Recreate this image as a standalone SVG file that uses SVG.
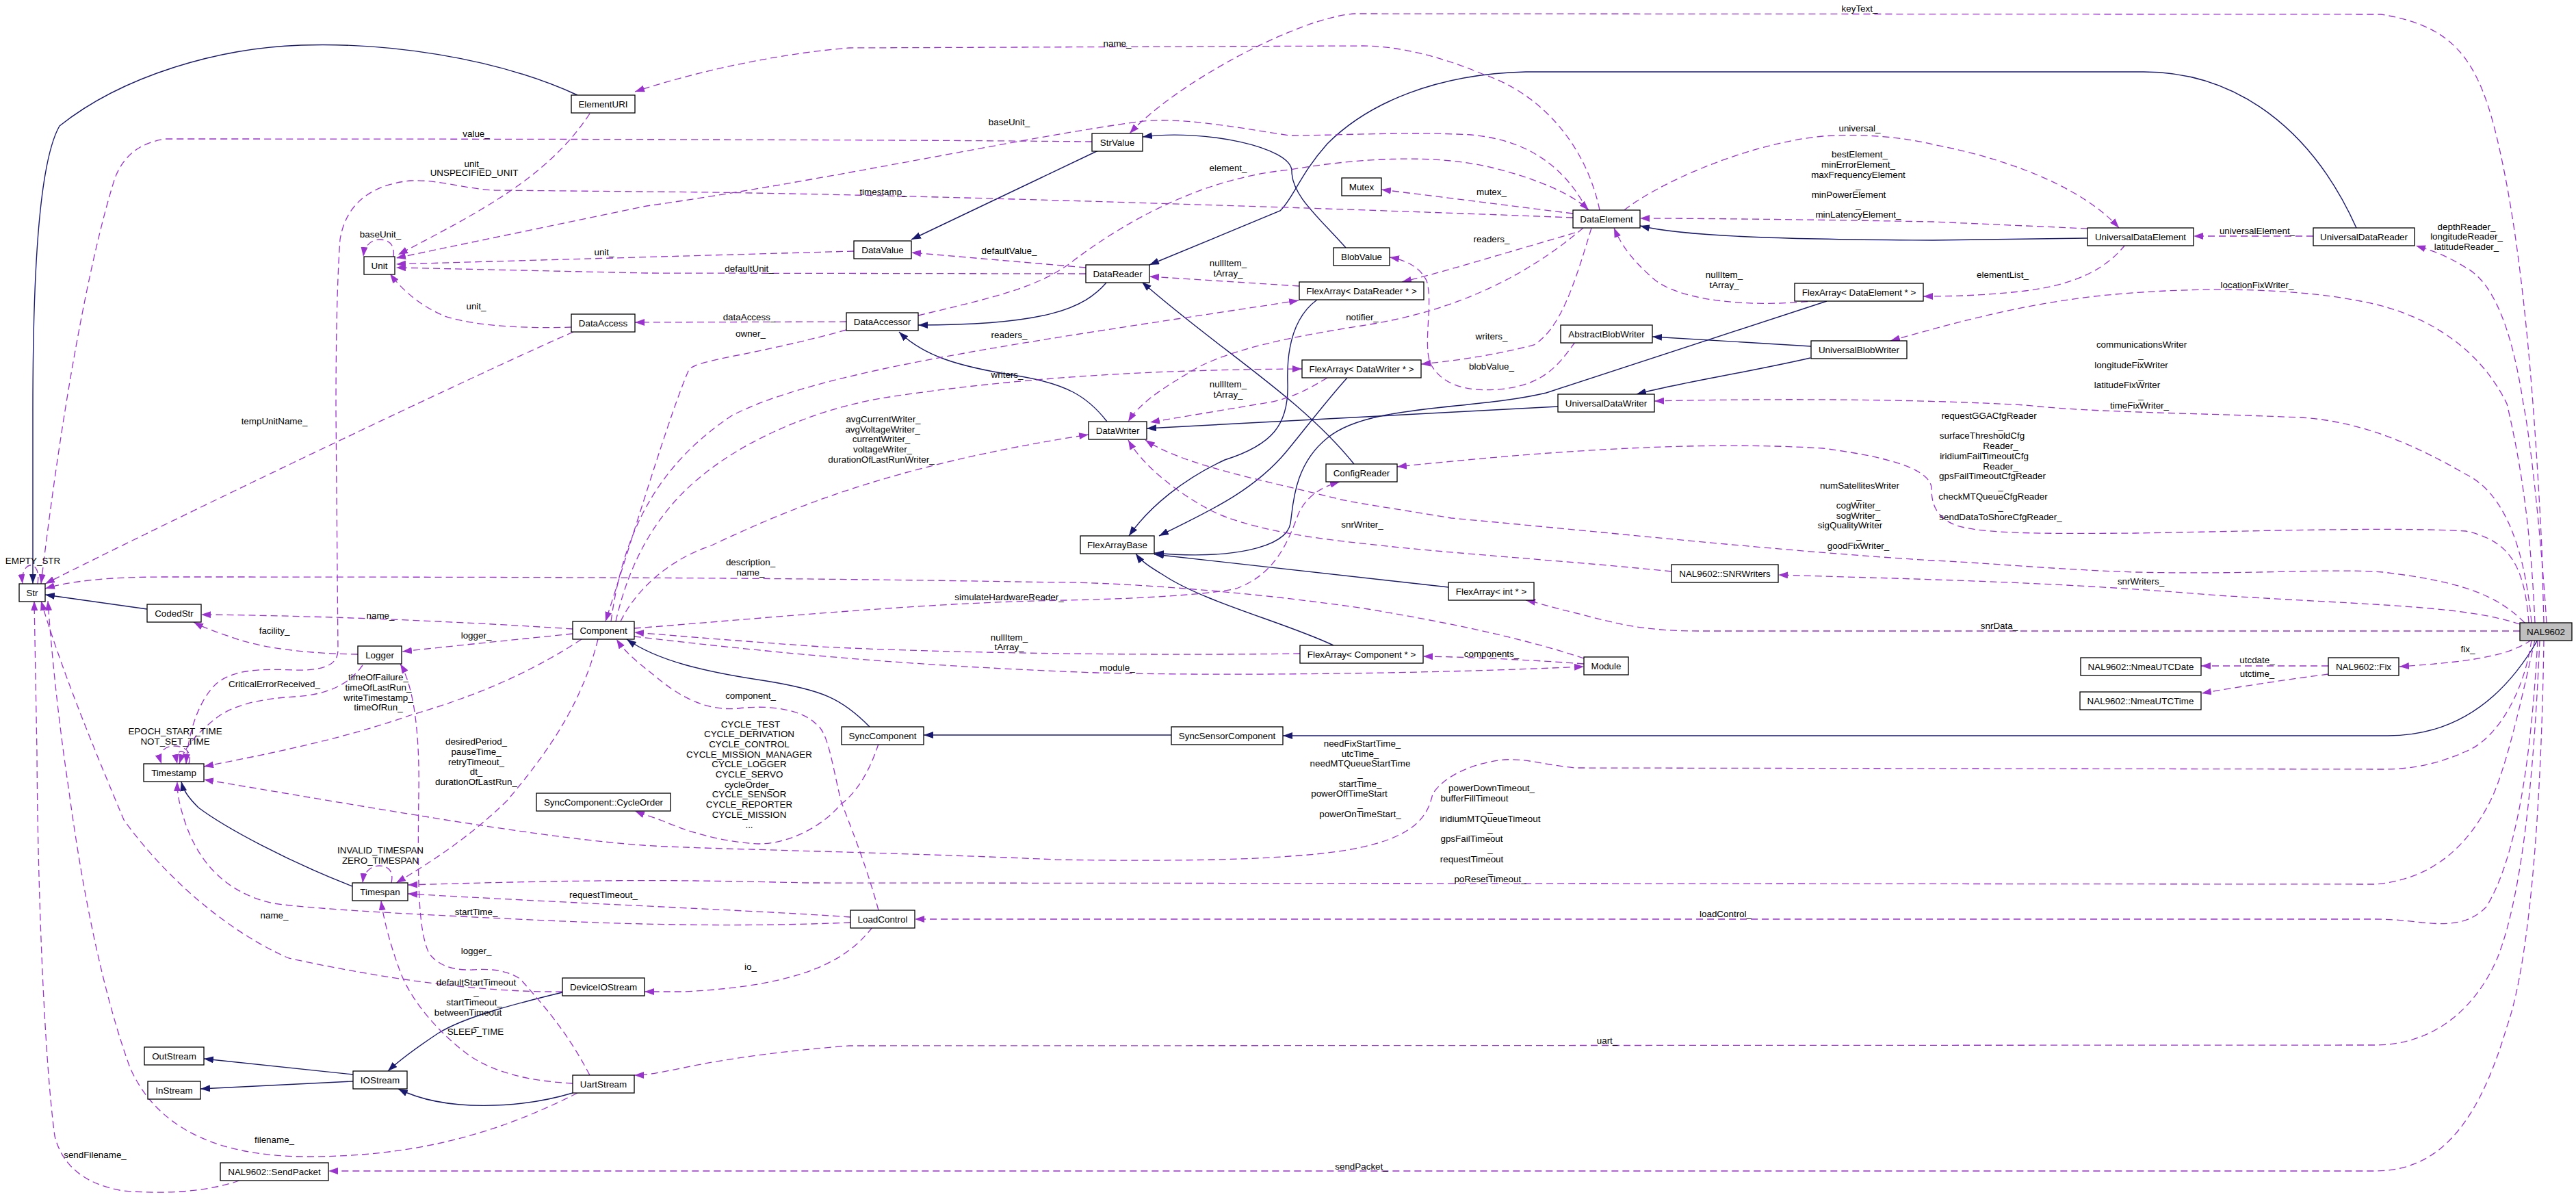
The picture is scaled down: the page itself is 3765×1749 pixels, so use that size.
<svg xmlns="http://www.w3.org/2000/svg" width="3765" height="1749" viewBox="0 0 3765 1749">
<style>
text{font-family:"Liberation Sans",Arial,sans-serif;font-size:13.4px;fill:#000;text-anchor:middle;dominant-baseline:central}
.node rect{fill:#fff;stroke:#000;stroke-width:1.3}
.root rect{fill:#bfbfbf}
.inh{fill:none;stroke:#191970;stroke-width:1.4;marker-end:url(#an)}
.use{fill:none;stroke:#9a32cd;stroke-width:1.3;stroke-dasharray:10,6;marker-end:url(#ap)}
</style>
<defs>
<marker id="an" markerUnits="userSpaceOnUse" markerWidth="14" markerHeight="10" viewBox="0 0 14 10" refX="14" refY="5" orient="auto"><path d="M0,0 L14,5 L0,10 z" fill="#191970"/></marker>
<marker id="ap" markerUnits="userSpaceOnUse" markerWidth="14" markerHeight="10" viewBox="0 0 14 10" refX="14" refY="5" orient="auto"><path d="M0,0 L14,5 L0,10 z" fill="#9a32cd"/></marker>
</defs>
<rect width="3765" height="1749" fill="#fff"/>
<g id="connectors">
<path class="inh" d="M844,139 C720,82 560,62 440,66 C320,70 180,110 87,184 C55,240 48,420 48,600 L48,853"/>
<path class="inh" d="M215,890 L66,869"/>
<path class="inh" d="M1605,220 L1332,350"/>
<path class="inh" d="M1967,362 C1925,315 1888,285 1888,250 C1888,215 1760,188 1670,200"/>
<path class="inh" d="M3444,333 C3380,190 3270,105 3133,105 L2230,105 C2100,108 2000,150 1940,210 C1900,255 1890,290 1871,308 L1680,387"/>
<path class="inh" d="M3051,348 L2825,351 C2600,350 2460,345 2397,330"/>
<path class="inh" d="M1617,413 C1585,450 1530,475 1342,475"/>
<path class="inh" d="M1618,616 C1590,580 1560,560 1480,548 C1400,535 1350,520 1314,485"/>
<path class="inh" d="M1925,438 C1895,460 1880,500 1882,560 C1884,620 1860,650 1790,672 C1730,700 1680,740 1650,783"/>
<path class="inh" d="M1969,552 C1935,590 1905,630 1880,660 C1830,720 1760,750 1694,783"/>
<path class="inh" d="M2670,440 L2260,574 C2150,600 2000,590 1940,640 C1890,680 1890,740 1886,765 C1880,800 1800,818 1687,808"/>
<path class="inh" d="M2117,858 L1687,810"/>
<path class="inh" d="M1949,943 C1880,910 1760,880 1700,840 C1680,828 1668,820 1660,809"/>
<path class="inh" d="M2647,506 L2415,492"/>
<path class="inh" d="M2646,523 C2550,545 2450,560 2392,576"/>
<path class="inh" d="M2277,594 L1676,626"/>
<path class="inh" d="M1979,678 C1900,580 1780,510 1669,412"/>
<path class="inh" d="M1271,1062 C1230,1020 1200,1008 1120,995 C1030,982 960,965 916,934"/>
<path class="inh" d="M1712,1074 L1350,1074"/>
<path class="inh" d="M3709,935 C3660,1020 3590,1075 3490,1075 L1875,1075"/>
<path class="inh" d="M515,1295 C420,1258 330,1210 290,1180 C275,1165 268,1155 265,1142"/>
<path class="inh" d="M822,1450 C760,1465 680,1485 640,1510 C610,1530 585,1548 567,1565"/>
<path class="inh" d="M837,1597 C760,1620 650,1625 582,1591"/>
<path class="inh" d="M516,1570 L298,1547"/>
<path class="inh" d="M516,1580 L293,1591"/>

<path class="use" d="M3718,910 L3715,800 C3705,600 3690,400 3660,250 C3630,100 3600,40 3480,21 L1980,20 C1900,25 1720,120 1651,195"/>
<path class="use" d="M2338,307 C2320,220 2260,140 2169,109 C2100,80 2040,67 1990,67 L1241,70 C1120,80 1000,110 928,134"/>
<path class="use" d="M1596,207 C1400,205 1000,203 241,203 C200,210 180,230 168,260 C130,380 90,600 60,853"/>
<path class="use" d="M2299,318 C2100,310 1300,282 940,280 L723,278 C680,276 640,262 600,264 C540,270 505,300 497,350 C492,420 491,520 491,600 L494,950 C494,975 465,980 430,979 C380,977 340,978 315,1000 C290,1025 275,1070 272,1116"/>
<path class="use" d="M530,972 C510,1000 480,1015 430,1018 C380,1021 340,1030 315,1050 C290,1070 270,1090 262,1116"/>
<path class="use" d="M575,375 C578,355 565,350 555,350 C545,350 533,356 531,375"/>
<path class="use" d="M2320,307 C2290,250 2240,205 2150,197 C2060,192 1950,198 1885,198 C1800,185 1720,170 1663,178 C1500,200 1200,265 945,301 L579,377"/>
<path class="use" d="M1248,367 L579,386"/>
<path class="use" d="M1587,400 L945,399 L579,391"/>
<path class="use" d="M835,478 C780,480 700,478 650,462 C610,445 585,420 570,400"/>
<path class="use" d="M838,485 C700,545 250,760 66,853"/>
<path class="use" d="M862,166 C800,260 700,310 582,372"/>
<path class="use" d="M1587,391 L1332,369"/>
<path class="use" d="M1237,470 L928,471"/>
<path class="use" d="M1237,482 C1100,520 1020,525 1007,540 C980,600 920,800 885,908"/>
<path class="use" d="M1342,461 C1450,435 1520,420 1570,380 C1650,320 1760,260 1885,248 C1990,230 2100,225 2181,245 C2250,262 2300,285 2322,307"/>
<path class="use" d="M2302,340 C2200,370 2100,400 2049,412"/>
<path class="use" d="M1899,418 L1680,404"/>
<path class="use" d="M893,908 C910,780 960,680 1070,607 C1200,540 1500,500 1898,439"/>
<path class="use" d="M900,908 C920,820 960,750 1020,700 C1090,640 1200,595 1300,580 C1500,550 1700,540 1903,539"/>
<path class="use" d="M907,908 C925,870 970,820 1040,797 C1150,745 1300,680 1591,635"/>
<path class="use" d="M2326,333 C2300,420 2280,480 2242,504 C2180,520 2120,528 2077,532"/>
<path class="use" d="M1940,552 C1910,570 1890,580 1860,587 L1681,617"/>
<path class="use" d="M2314,333 C2200,430 2080,462 1990,476 C1900,490 1790,510 1737,545 C1695,570 1665,590 1649,616"/>
<path class="use" d="M2299,312 L2019,277"/>
<path class="use" d="M2374,307 C2420,270 2550,210 2664,199 C2720,195 2780,200 2825,211 C2950,235 3050,280 3097,333"/>
<path class="use" d="M3051,334 L2825,324 C2600,320 2450,319 2397,319"/>
<path class="use" d="M3381,345 L3206,345"/>
<path class="use" d="M3106,358 C3080,390 3040,415 2960,425 C2900,432 2850,433 2811,433"/>
<path class="use" d="M2658,439 C2560,450 2460,440 2420,410 C2390,385 2370,360 2359,333"/>
<path class="use" d="M2302,500 C2280,530 2260,560 2200,568 C2140,575 2105,560 2090,530 C2080,500 2095,440 2085,410 C2075,390 2055,380 2031,376"/>
<path class="use" d="M3705,910 C3700,800 3690,700 3664,590 C3630,520 3560,460 3450,440 C3350,420 3200,418 3061,433 C2960,445 2880,465 2763,498"/>
<path class="use" d="M3700,910 C3690,800 3660,720 3604,693 C3530,650 3450,615 3362,610 C3200,603 3061,603 2960,592 C2800,583 2600,582 2418,586"/>
<path class="use" d="M3696,910 C3690,830 3670,790 3604,776 C3500,770 3300,776 3121,779 C2980,780 2900,780 2860,768 C2825,755 2823,730 2823,712 C2820,690 2780,670 2664,655 C2500,645 2300,655 2042,682"/>
<path class="use" d="M3690,910 C3650,870 3600,850 3483,836 C3400,830 3300,840 3121,836 C3000,832 2900,822 2825,819 C2600,805 2362,779 2121,757 C2050,745 2000,738 1960,730 C1840,700 1730,680 1674,643"/>
<path class="use" d="M2443,835 C2300,820 2121,809 2000,795 C1900,785 1820,770 1772,747 C1720,720 1670,680 1649,643"/>
<path class="use" d="M3683,912 C3600,885 3483,885 3242,870 C3000,850 2825,847 2599,840"/>
<path class="use" d="M3683,922 L2483,922 C2400,922 2362,911 2300,895 C2270,888 2245,880 2230,877"/>
<path class="use" d="M3700,935 C3670,955 3630,966 3507,974"/>
<path class="use" d="M3403,973 L3217,973"/>
<path class="use" d="M3403,985 C3350,992 3280,1002 3218,1013"/>
<path class="use" d="M3700,935 C3690,1010 3650,1080 3604,1098 C3560,1118 3520,1124 3483,1124 L2302,1122 C2260,1118 2230,1108 2199,1110 C2150,1115 2110,1135 2094,1160 C2085,1200 2060,1240 1886,1251 C1800,1258 1650,1258 1543,1256 C1300,1245 1000,1240 940,1235 C800,1225 600,1190 298,1139"/>
<path class="use" d="M3705,935 C3690,1000 3665,1120 3640,1170 C3610,1230 3560,1285 3471,1292 L1181,1290 C1000,1286 900,1284 596,1293"/>
<path class="use" d="M1243,1340 C1100,1330 900,1323 596,1306"/>
<path class="use" d="M1243,1348 C1100,1354 950,1352 800,1345 C650,1338 470,1330 400,1320 C330,1305 290,1260 270,1200 C262,1175 259,1160 259,1142"/>
<path class="use" d="M822,1449 C700,1450 560,1430 422,1400 C330,1360 240,1280 181,1198 C140,1100 90,980 60,878"/>
<path class="use" d="M844,1597 C720,1660 600,1690 450,1690 C320,1690 230,1650 190,1560 C150,1450 120,1300 100,1150 C85,1050 75,950 70,878"/>
<path class="use" d="M350,1725 C300,1742 240,1745 180,1740 C120,1730 90,1700 80,1660 C65,1550 55,1300 54,1100 L50,878"/>
<path class="use" d="M55,853 C58,835 52,826 45,826 C38,826 31,836 33,853"/>
<path class="use" d="M2315,962 C2250,940 2150,915 2000,890 C1800,860 1600,850 1543,851 C1200,845 940,843 241,843 C150,843 100,850 66,860"/>
<path class="use" d="M837,919 C700,910 500,900 294,898"/>
<path class="use" d="M837,926 C750,935 650,945 588,952"/>
<path class="use" d="M523,956 C460,955 400,950 350,935 C320,925 300,918 283,909"/>
<path class="use" d="M850,934 C750,1000 650,1030 600,1045 C500,1080 400,1100 298,1120"/>
<path class="use" d="M874,934 C850,1030 800,1100 741,1170 C690,1220 630,1260 579,1290"/>
<path class="use" d="M862,1571 C830,1510 800,1475 760,1430 C740,1418 720,1415 690,1417 C660,1418 640,1410 627,1393 C612,1360 610,1300 612,1160 C614,1050 600,995 585,970"/>
<path class="use" d="M1284,1330 C1265,1260 1240,1200 1229,1170 C1215,1110 1210,1070 1193,1058 C1170,1035 1120,1030 1080,1035 C1030,1040 990,1015 960,990 C935,970 915,955 901,934"/>
<path class="use" d="M1284,1087 C1270,1130 1250,1160 1229,1175 C1200,1210 1150,1233 1109,1233 C1050,1230 1000,1213 970,1200 C950,1192 940,1190 928,1185"/>
<path class="use" d="M1275,1355 C1240,1400 1180,1440 1000,1449 L942,1449"/>
<path class="use" d="M3709,935 C3700,1100 3680,1250 3634,1325 C3610,1350 3580,1352 3540,1348 C3500,1343 3480,1343 3471,1343 L1337,1343"/>
<path class="use" d="M3712,935 C3705,1100 3690,1300 3650,1400 C3620,1470 3560,1527 3471,1527 L1241,1528 C1150,1535 1060,1547 1000,1560 C960,1568 945,1571 927,1571"/>
<path class="use" d="M3718,935 C3715,1150 3700,1400 3664,1500 C3620,1650 3560,1711 3471,1711 L480,1711"/>
<path class="use" d="M3722,910 C3715,800 3700,650 3688,590 C3670,470 3640,410 3604,391 C3570,370 3550,365 3531,359"/>
<path class="use" d="M927,918 C1100,905 1350,880 1561,877 C1650,875 1760,870 1807,860 C1860,840 1880,800 1898,750 C1910,725 1930,712 1958,704"/>
<path class="use" d="M1900,955 C1700,958 1400,955 1200,945 C1100,938 1000,930 927,924"/>
<path class="use" d="M927,930 C1100,950 1300,972 1603,983 C1800,988 2100,984 2315,974"/>
<path class="use" d="M2315,970 C2250,965 2150,960 2080,959"/>
<path class="use" d="M276,1116 C282,1097 268,1090 255,1090 C242,1090 230,1098 236,1116"/>
<path class="use" d="M272,1116 C276,1104 270,1098 265,1098 C259,1098 257,1106 259,1116"/>
<path class="use" d="M572,1290 C576,1272 566,1265 555,1265 C544,1265 532,1272 530,1290"/>
<path class="use" d="M837,1583 C780,1580 730,1570 690,1545 C640,1510 600,1460 585,1420 C570,1380 560,1340 557,1316"/>
</g>
<g id="edge-labels">
<text x="2718" y="12">keyText_</text>
<text x="1633" y="63">name_</text>
<text x="696" y="195">value_</text>
<text x="1475" y="178">baseUnit_</text>
<text x="693" y="239">unit_</text>
<text x="693" y="252">UNSPECIFIED_UNIT</text>
<text x="1795" y="245">element_</text>
<text x="1291" y="280">timestamp_</text>
<text x="2180" y="280">mutex_</text>
<text x="2718" y="187">universal_</text>
<text x="2718" y="225">bestElement_</text>
<text x="2716" y="240">minErrorElement_</text>
<text x="2716" y="255">maxFrequencyElement</text>
<text x="2716" y="270">_</text>
<text x="2702" y="284">minPowerElement</text>
<text x="2716" y="299">_</text>
<text x="2716" y="313">minLatencyElement_</text>
<text x="556" y="342">baseUnit_</text>
<text x="883" y="368">unit_</text>
<text x="1475" y="366">defaultValue_</text>
<text x="1095" y="392">defaultUnit_</text>
<text x="1795" y="384">nullItem_</text>
<text x="1795" y="399">tArray_</text>
<text x="2180" y="349">readers_</text>
<text x="2520" y="401">nullItem_</text>
<text x="2520" y="416">tArray_</text>
<text x="2927" y="401">elementList_</text>
<text x="3299" y="416">locationFixWriter_</text>
<text x="3299" y="337">universalElement_</text>
<text x="3605" y="331">depthReader_</text>
<text x="3605" y="345">longitudeReader_</text>
<text x="3605" y="360">latitudeReader_</text>
<text x="696" y="447">unit_</text>
<text x="1095" y="463">dataAccess_</text>
<text x="1991" y="463">notifier_</text>
<text x="1097" y="487">owner_</text>
<text x="1475" y="489">readers_</text>
<text x="2180" y="491">writers_</text>
<text x="3130" y="503">communicationsWriter</text>
<text x="3129" y="518">_</text>
<text x="3115" y="533">longitudeFixWriter</text>
<text x="3129" y="548">_</text>
<text x="3109" y="562">latitudeFixWriter</text>
<text x="3129" y="577">_</text>
<text x="3127" y="592">timeFixWriter_</text>
<text x="2180" y="535">blobValue_</text>
<text x="1472" y="547">writers_</text>
<text x="1795" y="561">nullItem_</text>
<text x="1795" y="576">tArray_</text>
<text x="2907" y="607">requestGGACfgReader</text>
<text x="2924" y="622">_</text>
<text x="2897" y="636">surfaceThresholdCfg</text>
<text x="2924" y="651">Reader_</text>
<text x="2900" y="666">iridiumFailTimeoutCfg</text>
<text x="2924" y="681">Reader_</text>
<text x="2912" y="695">gpsFailTimeoutCfgReader</text>
<text x="2924" y="710">_</text>
<text x="2913" y="725">checkMTQueueCfgReader</text>
<text x="2924" y="740">_</text>
<text x="2924" y="755">sendDataToShoreCfgReader_</text>
<text x="1291" y="612">avgCurrentWriter_</text>
<text x="1290" y="627">avgVoltageWriter_</text>
<text x="1288" y="641">currentWriter_</text>
<text x="1290" y="656">voltageWriter_</text>
<text x="1288" y="671">durationOfLastRunWriter_</text>
<text x="401" y="615">tempUnitName_</text>
<text x="2718" y="709">numSatellitesWriter</text>
<text x="2717" y="724">_</text>
<text x="2716" y="738">cogWriter_</text>
<text x="2716" y="753">sogWriter_</text>
<text x="2704" y="767">sigQualityWriter</text>
<text x="2717" y="782">_</text>
<text x="2716" y="797">goodFixWriter_</text>
<text x="1991" y="766">snrWriter_</text>
<text x="48" y="819">EMPTY_STR</text>
<text x="1097" y="821">description_</text>
<text x="1097" y="836">name_</text>
<text x="3129" y="849">snrWriters_</text>
<text x="1475" y="872">simulateHardwareReader_</text>
<text x="556" y="899">name_</text>
<text x="2922" y="914">snrData_</text>
<text x="401" y="921">facility_</text>
<text x="696" y="928">logger_</text>
<text x="1475" y="931">nullItem_</text>
<text x="1475" y="945">tArray_</text>
<text x="3607" y="948">fix_</text>
<text x="2180" y="955">components_</text>
<text x="3299" y="964">utcdate_</text>
<text x="1633" y="975">module_</text>
<text x="3299" y="984">utctime_</text>
<text x="553" y="989">timeOfFailure_</text>
<text x="553" y="1004">timeOfLastRun_</text>
<text x="553" y="1019">writeTimestamp_</text>
<text x="553" y="1033">timeOfRun_</text>
<text x="401" y="999">CriticalErrorReceived_</text>
<text x="1097" y="1016">component_</text>
<text x="1097" y="1058">CYCLE_TEST</text>
<text x="1095" y="1072">CYCLE_DERIVATION</text>
<text x="1095" y="1087">CYCLE_CONTROL</text>
<text x="1095" y="1102">CYCLE_MISSION_MANAGER</text>
<text x="1095" y="1116">CYCLE_LOGGER</text>
<text x="1095" y="1131">CYCLE_SERVO</text>
<text x="1095" y="1146">cycleOrder_</text>
<text x="1095" y="1160">CYCLE_SENSOR</text>
<text x="1095" y="1175">CYCLE_REPORTER</text>
<text x="1095" y="1190">CYCLE_MISSION</text>
<text x="1095" y="1205">...</text>
<text x="256" y="1068">EPOCH_START_TIME</text>
<text x="256" y="1083">NOT_SET_TIME</text>
<text x="696" y="1083">desiredPeriod_</text>
<text x="696" y="1098">pauseTime_</text>
<text x="696" y="1113">retryTimeout_</text>
<text x="696" y="1127">dt_</text>
<text x="696" y="1142">durationOfLastRun_</text>
<text x="1991" y="1086">needFixStartTime_</text>
<text x="1988" y="1101">utcTime_</text>
<text x="1988" y="1115">needMTQueueStartTime</text>
<text x="1988" y="1130">_</text>
<text x="1988" y="1145">startTime_</text>
<text x="1972" y="1159">powerOffTimeStart</text>
<text x="1988" y="1174">_</text>
<text x="1988" y="1189">powerOnTimeStart_</text>
<text x="2180" y="1151">powerDownTimeout_</text>
<text x="2155" y="1166">bufferFillTimeout</text>
<text x="2178" y="1181">_</text>
<text x="2178" y="1196">iridiumMTQueueTimeout</text>
<text x="2178" y="1210">_</text>
<text x="2151" y="1225">gpsFailTimeout</text>
<text x="2178" y="1240">_</text>
<text x="2151" y="1255">requestTimeout</text>
<text x="2178" y="1270">_</text>
<text x="2178" y="1284">poResetTimeout_</text>
<text x="556" y="1242">INVALID_TIMESPAN</text>
<text x="556" y="1257">ZERO_TIMESPAN</text>
<text x="882" y="1307">requestTimeout_</text>
<text x="696" y="1332">startTime_</text>
<text x="401" y="1337">name_</text>
<text x="2522" y="1335">loadControl_</text>
<text x="696" y="1389">logger_</text>
<text x="1097" y="1412">io_</text>
<text x="696" y="1435">defaultStartTimeout</text>
<text x="696" y="1449">_</text>
<text x="693" y="1464">startTimeout_</text>
<text x="684" y="1479">betweenTimeout</text>
<text x="696" y="1494">_</text>
<text x="695" y="1507">SLEEP_TIME</text>
<text x="2349" y="1520">uart_</text>
<text x="401" y="1665">filename_</text>
<text x="139" y="1687">sendFilename_</text>
<text x="1990" y="1704">sendPacket_</text>
</g>
<g id="nodes">
<g id="node-ElementURI" class="node"><rect x="835" y="139" width="93" height="26"/><text x="881.5" y="152">ElementURI</text></g>
<g id="node-Unit" class="node"><rect x="532" y="375" width="45" height="26"/><text x="554.5" y="388">Unit</text></g>
<g id="node-DataAccess" class="node"><rect x="835" y="459" width="93" height="26"/><text x="881.5" y="472">DataAccess</text></g>
<g id="node-Str" class="node"><rect x="28" y="853" width="38" height="26"/><text x="47" y="866">Str</text></g>
<g id="node-CodedStr" class="node"><rect x="215" y="883" width="79" height="26"/><text x="254.5" y="896">CodedStr</text></g>
<g id="node-Component" class="node"><rect x="837" y="908" width="90" height="26"/><text x="882" y="921">Component</text></g>
<g id="node-Logger" class="node"><rect x="523" y="944" width="64" height="26"/><text x="555" y="957">Logger</text></g>
<g id="node-Timestamp" class="node"><rect x="210" y="1116" width="88" height="26"/><text x="254" y="1129">Timestamp</text></g>
<g id="node-CycleOrder" class="node"><rect x="784" y="1159" width="196" height="26"/><text x="882" y="1172">SyncComponent::CycleOrder</text></g>
<g id="node-Timespan" class="node"><rect x="515" y="1290" width="81" height="26"/><text x="555.5" y="1303">Timespan</text></g>
<g id="node-DeviceIOStream" class="node"><rect x="822" y="1429" width="120" height="26"/><text x="882" y="1442">DeviceIOStream</text></g>
<g id="node-OutStream" class="node"><rect x="211" y="1530" width="87" height="26"/><text x="254.5" y="1543">OutStream</text></g>
<g id="node-InStream" class="node"><rect x="216" y="1580" width="77" height="26"/><text x="254.5" y="1593">InStream</text></g>
<g id="node-IOStream" class="node"><rect x="516" y="1565" width="79" height="26"/><text x="555.5" y="1578">IOStream</text></g>
<g id="node-UartStream" class="node"><rect x="837" y="1571" width="90" height="26"/><text x="882" y="1584">UartStream</text></g>
<g id="node-SendPacket" class="node"><rect x="322" y="1699" width="158" height="26"/><text x="401" y="1712">NAL9602::SendPacket</text></g>
<g id="node-StrValue" class="node"><rect x="1596" y="195" width="74" height="26"/><text x="1633" y="208">StrValue</text></g>
<g id="node-DataValue" class="node"><rect x="1248" y="352" width="84" height="26"/><text x="1290" y="365">DataValue</text></g>
<g id="node-DataReader" class="node"><rect x="1587" y="387" width="93" height="26"/><text x="1633.5" y="400">DataReader</text></g>
<g id="node-DataAccessor" class="node"><rect x="1237" y="457" width="105" height="26"/><text x="1289.5" y="470">DataAccessor</text></g>
<g id="node-Mutex" class="node"><rect x="1961" y="260" width="58" height="26"/><text x="1990" y="273">Mutex</text></g>
<g id="node-DataElement" class="node"><rect x="2299" y="307" width="98" height="26"/><text x="2348" y="320">DataElement</text></g>
<g id="node-BlobValue" class="node"><rect x="1949" y="362" width="82" height="26"/><text x="1990" y="375">BlobValue</text></g>
<g id="node-FlexArrayDataReader" class="node"><rect x="1899" y="412" width="182" height="26"/><text x="1990" y="425">FlexArray&lt; DataReader * &gt;</text></g>
<g id="node-FlexArrayDataElement" class="node"><rect x="2623" y="414" width="188" height="26"/><text x="2717" y="427">FlexArray&lt; DataElement * &gt;</text></g>
<g id="node-AbstractBlobWriter" class="node"><rect x="2281" y="475" width="134" height="26"/><text x="2348" y="488">AbstractBlobWriter</text></g>
<g id="node-UniversalBlobWriter" class="node"><rect x="2647" y="498" width="140" height="26"/><text x="2717" y="511">UniversalBlobWriter</text></g>
<g id="node-FlexArrayDataWriter" class="node"><rect x="1903" y="526" width="174" height="26"/><text x="1990" y="539">FlexArray&lt; DataWriter * &gt;</text></g>
<g id="node-UniversalDataWriter" class="node"><rect x="2277" y="576" width="141" height="26"/><text x="2347.5" y="589">UniversalDataWriter</text></g>
<g id="node-UniversalDataElement" class="node"><rect x="3051" y="333" width="155" height="26"/><text x="3128.5" y="346">UniversalDataElement</text></g>
<g id="node-UniversalDataReader" class="node"><rect x="3381" y="333" width="148" height="26"/><text x="3455" y="346">UniversalDataReader</text></g>
<g id="node-NAL9602" class="node root"><rect x="3683" y="910" width="76" height="26"/><text x="3721" y="923">NAL9602</text></g>
<g id="node-Fix" class="node"><rect x="3403" y="961" width="103" height="26"/><text x="3454.5" y="974">NAL9602::Fix</text></g>
<g id="node-NmeaUTCDate" class="node"><rect x="3041" y="961" width="176" height="26"/><text x="3129" y="974">NAL9602::NmeaUTCDate</text></g>
<g id="node-NmeaUTCTime" class="node"><rect x="3040" y="1011" width="177" height="26"/><text x="3128.5" y="1024">NAL9602::NmeaUTCTime</text></g>
<g id="node-ConfigReader" class="node"><rect x="1938" y="678" width="104" height="26"/><text x="1990" y="691">ConfigReader</text></g>
<g id="node-SNRWriters" class="node"><rect x="2443" y="825" width="156" height="26"/><text x="2521" y="838">NAL9602::SNRWriters</text></g>
<g id="node-FlexArrayInt" class="node"><rect x="2117" y="851" width="125" height="26"/><text x="2179.5" y="864">FlexArray&lt; int * &gt;</text></g>
<g id="node-FlexArrayComponent" class="node"><rect x="1900" y="943" width="180" height="26"/><text x="1990" y="956">FlexArray&lt; Component * &gt;</text></g>
<g id="node-Module" class="node"><rect x="2315" y="960" width="65" height="26"/><text x="2347.5" y="973">Module</text></g>
<g id="node-DataWriter" class="node"><rect x="1591" y="616" width="85" height="26"/><text x="1633.5" y="629">DataWriter</text></g>
<g id="node-FlexArrayBase" class="node"><rect x="1579" y="783" width="108" height="26"/><text x="1633" y="796">FlexArrayBase</text></g>
<g id="node-SyncComponent" class="node"><rect x="1230" y="1062" width="120" height="26"/><text x="1290" y="1075">SyncComponent</text></g>
<g id="node-SyncSensorComponent" class="node"><rect x="1712" y="1062" width="163" height="26"/><text x="1793.5" y="1075">SyncSensorComponent</text></g>
<g id="node-LoadControl" class="node"><rect x="1243" y="1330" width="94" height="26"/><text x="1290" y="1343">LoadControl</text></g>
</g>
</svg>
